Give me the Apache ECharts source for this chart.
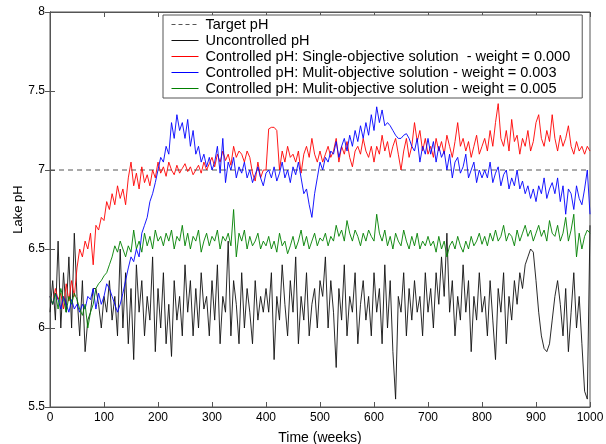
<!DOCTYPE html>
<html>
<head>
<meta charset="utf-8">
<script src="https://cdn.jsdelivr.net/npm/echarts@6/dist/echarts.min.js"></script>
<style>
html,body{margin:0;padding:0;background:#fff;}
#main{width:606px;height:444px;}
</style>
</head>
<body>
<div id="main"></div>
<script>
// sampled every 5 weeks, 0..1000
var weeks = [];
for (var w = 0; w <= 1000; w += 5) weeks.push(w);

var targetX = [0, 1000];
var targetY = [7, 7];

var uncontrolled = [
	6.1, 6.3, 6.05, 6.55, 6.0, 6.35, 6.1, 6.45, 6.0, 6.6, 6.2,
	5.95, 6.3, 5.85, 6.05, 6.1, 6.25, 6.25, 6.15, 6.0, 6.2,
	6.1, 6.3, 6.05, 6.2, 5.95, 6.5, 6.0, 6.35, 5.9, 6.25,
	5.8, 6.4, 6.1, 6.3, 5.95, 6.2, 6.05, 6.45, 5.85, 6.25,
	6.0, 6.35, 5.9, 6.15, 5.82, 6.3, 6.05, 6.2, 5.95, 6.4,
	6.1, 6.3, 5.95, 6.25, 6.0, 6.35, 6.12, 6.2, 5.95, 6.3,
	6.05, 6.4, 5.9, 6.2, 6.1, 6.55, 5.95, 6.3, 6.15, 5.9,
	6.35, 6.0, 6.25, 6.1, 5.9, 6.3, 6.05, 6.2, 6.1, 6.25,
	6.1, 6.35, 5.8, 6.2, 6.05, 6.4, 6.15, 5.95, 6.3, 6.1, 6.45, 5.9, 6.2, 6.05, 6.35, 5.95, 6.15, 6.25, 6.0, 6.3,
	6.2, 6.45, 6.0, 6.3, 6.1, 5.75, 6.25, 6.05, 6.4, 5.95, 6.2, 6.1, 6.35, 5.9, 6.15, 6.3, 6.05, 6.2, 5.95, 6.35,
	6.1, 6.25, 5.9, 6.4, 6.0, 6.3, 5.85, 5.55, 6.2, 6.1, 6.35, 5.95, 6.25, 6.05, 6.3, 6.1, 6.2, 5.95, 6.35, 6.1,
	6.25, 6.0, 6.35, 6.15, 6.45, 6.2, 6.6, 6.1, 6.3, 5.95, 6.2, 6.05, 6.4, 6.1, 6.3, 5.85, 6.2, 6.05, 6.35, 6.1,
	6.2, 5.95, 6.3, 6.05, 5.8, 6.25, 6.1, 6.35, 5.9, 6.2, 6.05, 6.3, 6.15, 6.35, 6.25, 6.4, 6.45, 6.5, 6.48, 6.3,
	6.1, 5.95, 5.87, 5.85, 5.9, 6.05, 6.2, 6.3, 6.15, 5.95, 6.25, 5.85, 6.1, 6.35, 6.0, 6.2, 5.9, 5.6, 5.55, 6.65
];

var single000 = [
	6.2, 6.15, 6.25, 6.18, 6.22, 6.12, 6.28, 6.17, 6.3, 6.2, 6.38,
	6.5, 6.45, 6.55, 6.5, 6.6, 6.4, 6.65, 6.62, 6.7, 6.68,
	6.8, 6.75, 6.85, 6.78, 6.9, 6.82, 6.88, 6.78, 6.95, 7.05,
	6.9, 6.98, 6.88, 7.02, 6.92, 6.97, 6.9, 7.0, 6.95, 7.05,
	6.98, 7.02, 6.96, 7.05, 7.0, 6.97, 7.03, 6.98, 7.01, 7.04,
	6.99, 7.02, 6.97, 7.0, 7.03, 6.98, 7.05, 7.0, 7.04, 7.08,
	7.02, 7.1, 7.05, 7.12, 7.06, 7.1, 7.03, 7.15, 7.08, 7.12,
	7.1, 7.05, 7.12, 7.08, 6.98, 6.93, 7.05, 6.95, 7.0, 7.0,
	7.26, 7.27, 7.27, 7.25, 7.0, 7.12, 7.05, 7.15, 7.08, 7.1, 7.05, 7.12, 6.98, 7.1, 7.15, 7.08, 7.2, 7.1, 7.05, 7.12,
	7.05, 7.1, 7.15, 7.08, 7.12, 7.2, 7.05, 7.15, 7.1, 7.18, 7.08, 7.02, 7.12, 7.15, 7.1, 7.2, 7.12, 7.08, 7.15, 7.05,
	7.15, 7.1, 7.22, 7.12, 7.18, 7.08, 7.15, 7.2, 7.1, 7.0, 7.12, 7.2, 7.08, 7.15, 7.3, 7.18, 7.25, 7.12, 7.2, 7.1,
	7.15, 7.08, 7.2, 7.12, 7.18, 7.1, 7.22, 7.15, 7.08, 7.18, 7.3, 7.15, 7.2, 7.12, 7.18, 7.08, 7.15, 7.22, 7.1, 7.15,
	7.2, 7.12, 7.25, 7.15, 7.3, 7.42, 7.2, 7.15, 7.25, 7.12, 7.32, 7.18, 7.22, 7.1, 7.2, 7.15, 7.25, 7.12, 7.18, 7.3,
	7.35, 7.2, 7.15, 7.25, 7.18, 7.35, 7.2, 7.12, 7.22, 7.15, 7.2, 7.28, 7.15, 7.1, 7.18, 7.12, 7.15, 7.1, 7.15, 7.12
];

var multi003 = [
	6.2, 6.15, 6.22, 6.18, 6.12, 6.2, 6.15, 6.1, 6.18, 6.12, 6.15,
	6.1, 6.15, 6.12, 6.2, 6.18, 6.25, 6.12, 6.22, 6.15, 6.2,
	6.28, 6.25, 6.2, 6.15, 6.1, 6.15, 6.22, 6.3, 6.38, 6.45,
	6.42, 6.5, 6.45, 6.6, 6.65, 6.7, 6.8, 6.85, 6.92, 7.0,
	7.08, 7.05, 7.15, 7.1, 7.3, 7.2, 7.35, 7.25, 7.3, 7.2,
	7.32, 7.15, 7.25, 7.1, 7.15, 7.05, 7.1, 7.02, 7.08, 7.0,
	7.05, 7.15, 6.98, 7.2, 6.92, 7.05, 7.0, 7.08, 6.95, 7.02,
	6.98, 7.05, 6.95, 7.0, 6.92, 6.97, 7.02, 6.95, 6.9, 6.98,
	7.0, 6.95, 7.02, 6.93, 6.98, 7.05, 6.95, 7.0, 6.92, 7.02, 6.97, 7.05, 6.95, 6.85, 6.88, 6.78, 6.7, 6.85, 6.95, 7.05,
	7.0, 7.08, 7.05, 7.12, 7.1, 7.18, 7.08, 7.15, 7.2, 7.12, 7.22, 7.15, 7.25, 7.18, 7.28, 7.2, 7.3, 7.22, 7.35, 7.25,
	7.4, 7.3, 7.38, 7.28, 7.3, 7.28, 7.25, 7.22, 7.2, 7.2, 7.22, 7.23, 7.2, 7.15, 7.12, 7.2, 7.05, 7.15, 7.1, 7.2,
	7.1, 7.18, 7.05, 7.15, 7.08, 7.12, 7.0, 7.1, 6.95, 7.05, 7.08, 6.98, 7.02, 7.1, 6.95, 7.0, 7.05, 6.92, 7.0, 6.95,
	7.0, 6.95, 7.05, 6.92, 6.98, 7.02, 6.9, 6.97, 7.0, 6.88, 6.95, 6.9, 7.0, 6.88, 6.93, 6.85, 6.9, 6.82, 6.88, 6.8,
	6.9, 6.85, 6.95, 6.82, 6.88, 6.92, 6.85, 6.95, 6.8, 6.9, 6.72, 6.88, 6.85, 6.75, 6.9, 6.82, 6.78, 6.88, 7.0, 6.72
];

var multi005 = [
	6.2, 6.15, 6.22, 6.12, 6.25, 6.18, 6.1, 6.2, 6.15, 6.22, 6.18,
	6.12, 6.08, 6.15, 6.0, 6.1, 6.15, 6.25, 6.28, 6.3, 6.33,
	6.35, 6.4, 6.45, 6.52, 6.48, 6.55, 6.5, 6.45, 6.52, 6.48,
	6.62, 6.5, 6.55, 6.48, 6.6, 6.52, 6.58, 6.5, 6.62, 6.55,
	6.58, 6.52, 6.6, 6.55, 6.62, 6.5, 6.58, 6.55, 6.65, 6.52,
	6.6, 6.5, 6.58, 6.55, 6.62, 6.48, 6.55, 6.6, 6.52, 6.58,
	6.55, 6.62, 6.5, 6.58, 6.55, 6.6, 6.52, 6.75, 6.45, 6.6,
	6.55, 6.62, 6.5, 6.58, 6.52, 6.55, 6.6, 6.5, 6.55, 6.52,
	6.58, 6.5, 6.55, 6.48, 6.6, 6.52, 6.55, 6.47, 6.52, 6.58, 6.5, 6.55, 6.62, 6.52, 6.58, 6.5, 6.55, 6.6, 6.52, 6.57,
	6.55, 6.6, 6.52, 6.58, 6.55, 6.65, 6.58, 6.62, 6.55, 6.68, 6.6, 6.55, 6.62, 6.58, 6.52, 6.6, 6.55, 6.62, 6.58, 6.55,
	6.72, 6.6, 6.55, 6.62, 6.52, 6.58, 6.5, 6.6, 6.55, 6.52, 6.62, 6.55, 6.5, 6.58, 6.52, 6.6, 6.5, 6.55, 6.52, 6.58,
	6.52, 6.55, 6.48, 6.58, 6.5, 6.55, 6.45, 6.52, 6.55, 6.5, 6.58, 6.52, 6.48, 6.55, 6.5, 6.58, 6.52, 6.55, 6.6, 6.53,
	6.58, 6.52, 6.6, 6.55, 6.62, 6.55, 6.58, 6.65, 6.55, 6.6, 6.58, 6.52, 6.62, 6.55, 6.6, 6.65, 6.58, 6.62, 6.55, 6.6,
	6.65, 6.58, 6.62, 6.55, 6.68, 6.6, 6.58, 6.65, 6.55, 6.6, 6.7, 6.55, 6.62, 6.72, 6.45, 6.6, 6.5, 6.58, 6.62, 6.6
];

var seriesNames = [
	'Target pH',
	'Uncontrolled pH',
	'Controlled pH: Single-objective solution  - weight = 0.000',
	'Controlled pH: Mulit-objective solution - weight = 0.003',
	'Controlled pH: Mulit-objective solution - weight = 0.005'
];
var seriesColors = ['#555555', '#111111', '#ff0000', '#0000ff', '#008000'];

function pairs(xs, ys){
	var out = [];
	for(var i = 0; i < ys.length; i++){
		out.push([xs[i], ys[i]]);
	}
	return out;
}

var legendData = [];
for(var k = 0; k < seriesNames.length; k++){
	legendData.push({
		name: seriesNames[k],
		itemStyle: { opacity: 0 },
		lineStyle: { color: seriesColors[k], width: 1, type: k == 0 ? [4, 3] : 'solid' }
	});
}

var myChart = echarts.init(document.getElementById('main'));
var font = 'Liberation Sans, Arial, sans-serif';
var axisCol = '#555';

function lineSeries(idx, xs, ys, z){
	return {
		name: seriesNames[idx], type: 'line', symbol: 'none',
		data: pairs(xs, ys),
		lineStyle: { color: seriesColors[idx], width: idx == 0 ? 1 : 0.9, type: idx == 0 ? [5, 4] : 'solid' },
		itemStyle: { color: seriesColors[idx] },
		z: z
	};
}

var option = {
	animation: false,
	backgroundColor: '#fff',
	textStyle: { fontFamily: font },
	grid: { left: 50, right: 16, top: 12, bottom: 37, outerBoundsMode: 'none', containLabel: false, show: true, borderColor: axisCol, borderWidth: 1 },
	legend: {
		orient: 'vertical',
		left: 163, top: 15,
		itemWidth: 27, itemHeight: 12, itemGap: 1,
		padding: [2, 12, 2, 8],
		backgroundColor: '#fff',
		borderColor: axisCol, borderWidth: 1,
		textStyle: { fontFamily: font, fontSize: 14.5, color: '#000', padding: [0, 0, 0, 2] },
		data: legendData
	},
	xAxis: [{
		type: 'value', min: 0, max: 1000, interval: 100,
		name: 'Time (weeks)', nameLocation: 'middle', nameGap: 24, nameMoveOverlap: false,
		nameTextStyle: { fontFamily: font, fontSize: 14, color: '#000' },
		axisLine: { lineStyle: { color: axisCol } },
		axisTick: { inside: true, length: 5, lineStyle: { color: axisCol } },
		axisLabel: { color: '#000', fontSize: 12, margin: 5, formatter: function(v){ return String(v); } },
		splitLine: { show: false }
	}, {
		type: 'value', min: 0, max: 1000, interval: 100, position: 'top',
		axisLine: { lineStyle: { color: axisCol } },
		axisTick: { inside: true, length: 5, lineStyle: { color: axisCol } },
		axisLabel: { show: false }, splitLine: { show: false }
	}],
	yAxis: [{
		type: 'value', min: 5.5, max: 8, interval: 0.5,
		name: 'Lake pH', nameLocation: 'middle', nameGap: 25, nameRotate: 90, nameMoveOverlap: false,
		nameTextStyle: { fontFamily: font, fontSize: 13, color: '#000' },
		axisLine: { show: true, lineStyle: { color: axisCol } },
		axisTick: { show: true, inside: true, length: 5, lineStyle: { color: axisCol } },
		axisLabel: { color: '#000', fontSize: 12, margin: 5 },
		splitLine: { show: false }
	}, {
		type: 'value', min: 5.5, max: 8, interval: 0.5, position: 'right',
		axisLine: { show: true, lineStyle: { color: axisCol } },
		axisTick: { show: true, inside: true, length: 5, lineStyle: { color: axisCol } },
		axisLabel: { show: false }, splitLine: { show: false }
	}],
	series: [
		lineSeries(0, targetX, targetY, 2),
		lineSeries(1, weeks, uncontrolled, 3),
		lineSeries(2, weeks, single000, 4),
		lineSeries(3, weeks, multi003, 5),
		lineSeries(4, weeks, multi005, 6)
	]
};
myChart.setOption(option, true);
</script>
</body>
</html>
